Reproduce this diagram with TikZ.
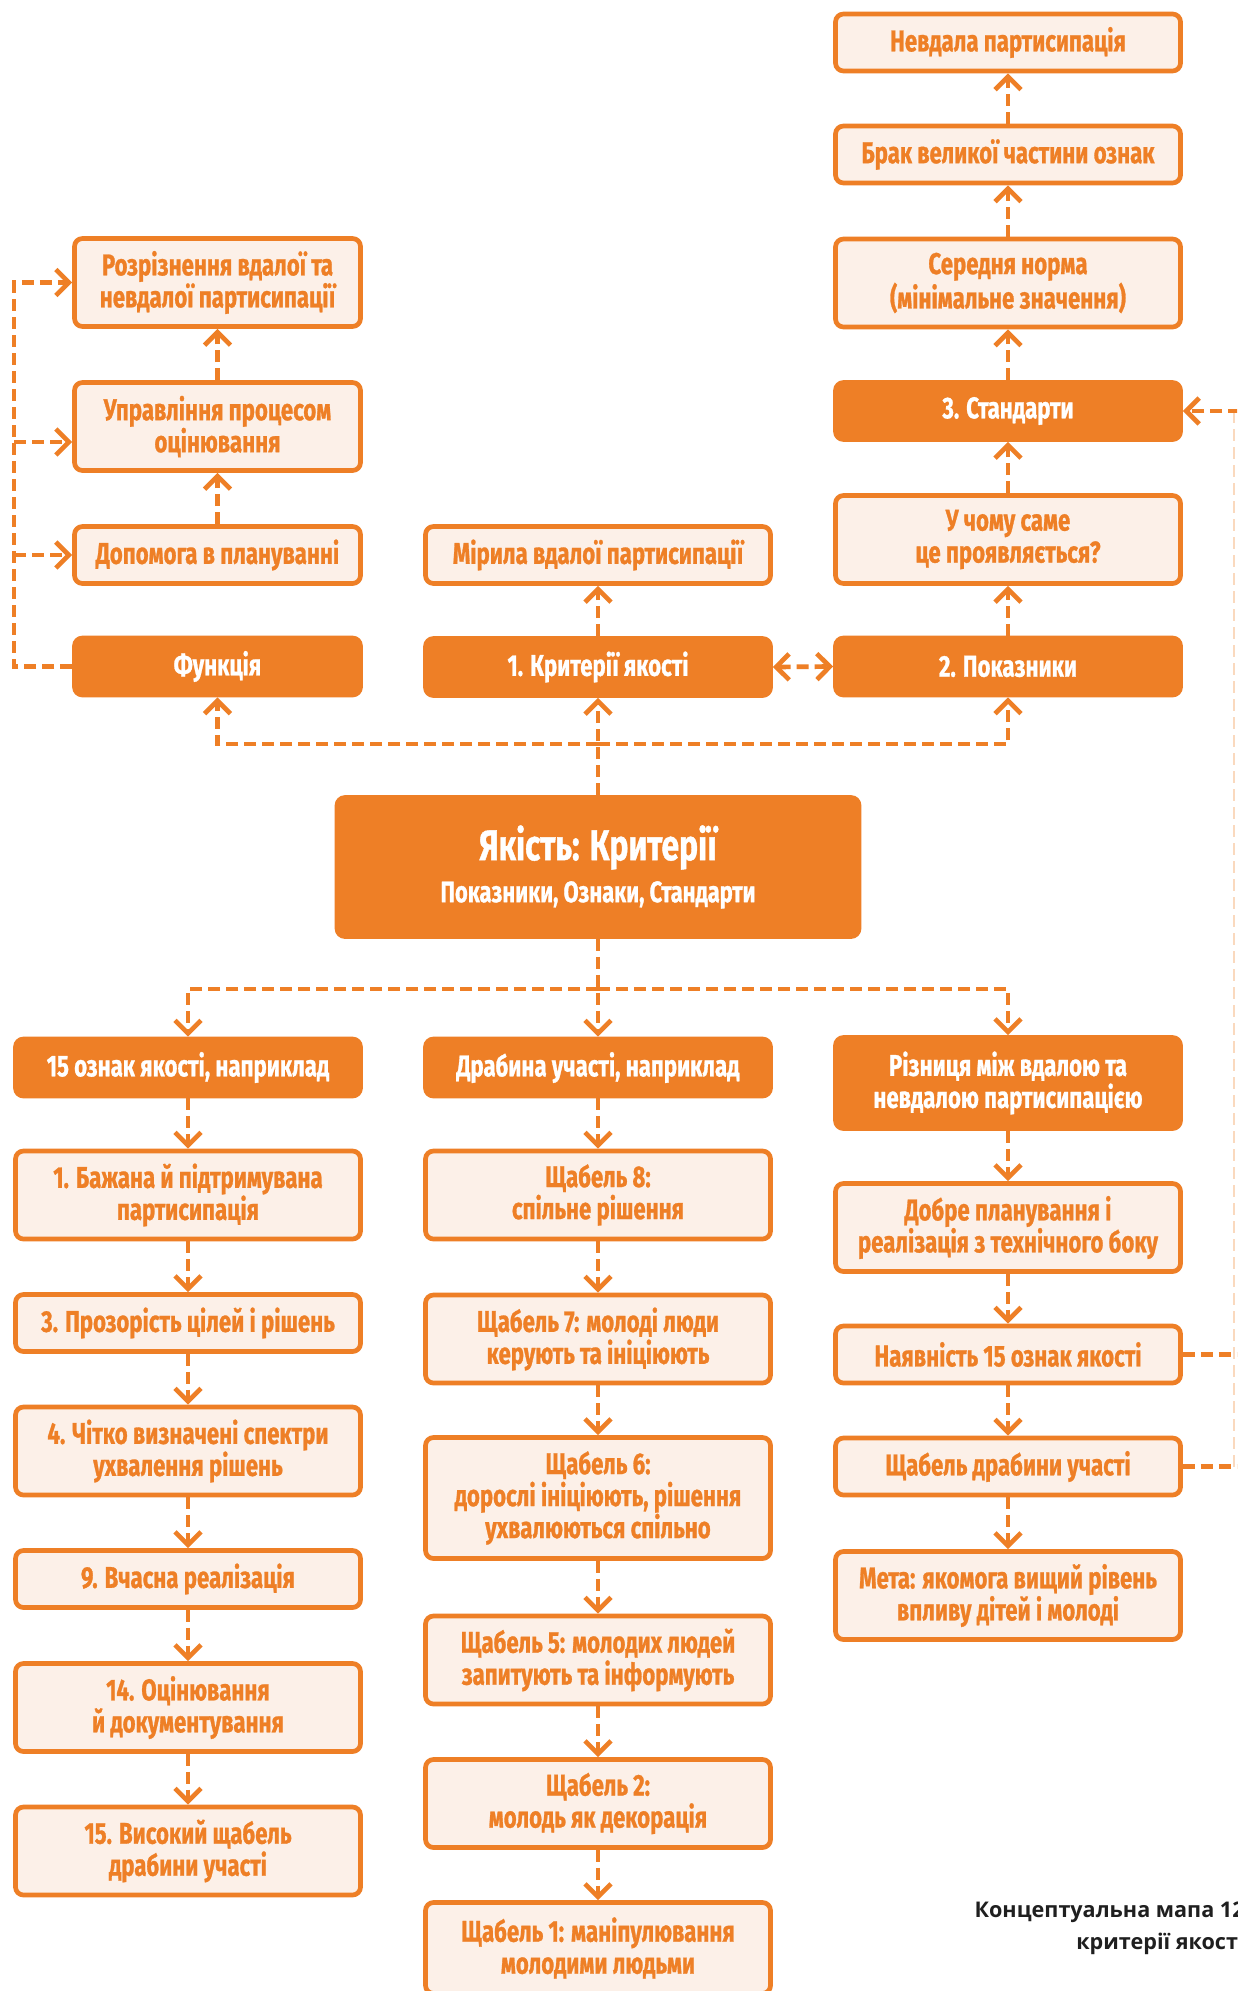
\documentclass[tikz,border=0pt]{standalone}
\usepackage{fontspec}
\usetikzlibrary{arrows.meta}
\newfontfamily\boxfont{Fira Sans}[FakeStretch=0.74, BoldFeatures={FakeBold=0.9}]
\newfontfamily\capfont{Open Sans}
\definecolor{orng}{HTML}{EE7F26}
\definecolor{pale}{HTML}{FCF0E8}
\tikzset{
  base/.style={line width=2.35pt, rounded corners=4pt, inner sep=0pt, align=center,
    font=\boxfont\bfseries\fontsize{15}{16}\selectfont},
  lbox/.style={base, draw=orng, fill=pale, text=orng},
  dbox/.style={base, draw=orng, fill=orng, text=white},
  wl/.style={minimum width=143pt},
  wm/.style={minimum width=172.5pt},
  h1/.style={minimum height=28.5pt},
  h2/.style={minimum height=44pt},
  h3/.style={minimum height=60.5pt},
  conn/.style={draw=orng, line width=2.35pt, dash pattern=on 6pt off 3pt},
  arr/.style={-{Straight Barb[length=6.5pt,width=13pt,sharp]}},
  biarr/.style={{Straight Barb[length=6.5pt,width=13pt,sharp]}-{Straight Barb[length=6.5pt,width=13pt,sharp]}},
}
\begin{document}
\begin{tikzpicture}[x=0.5pt,y=-0.5pt]
\useasboundingbox (0,0) rectangle (1237,1991);
\clip (0,0) rectangle (1237,1991);
\fill[white] (0,0) rectangle (1237,1991);

% --- upper left: function branch
\node[lbox,wl,h2] (r) at (217.5,282.5) {Розрізнення вдалої та\\невдалої партисипації};
\node[lbox,wl,h2] (u) at (217.5,426.5) {Управління процесом\\оцінювання};
\node[lbox,wl,h1] (d) at (217.5,555) {Допомога в плануванні};
\node[dbox,wl,h1] (f) at (217.5,666.5) {Функція};

% --- upper middle
\node[lbox,wm,h1] (m) at (598,555) {Мірила вдалої партисипації};
\node[dbox,wm,h1] (k1) at (598,667) {1. Критерії якості};

% --- upper right
\node[lbox,wm,h1] (nv) at (1008,42.5) {Невдала партисипація};
\node[lbox,wm,h1] (br) at (1008,154.5) {Брак великої частини ознак};
\node[lbox,wm,h2] (sn) at (1008,283) {Середня норма\\(мінімальне значення)};
\node[dbox,wm,h1] (st) at (1008,411) {3. Стандарти};
\node[lbox,wm,h2] (uc) at (1008,539.5) {У чому саме\\це проявляється?};
\node[dbox,wm,h1] (pk) at (1008,666.5) {2. Показники};

% --- central box
\node[dbox,minimum width=261pt,minimum height=69.5pt,
      font=\boxfont\bfseries\fontsize{21.5}{22}\selectfont] (c) at (598,867)
  {Якість: Критерії\\[-1pt]{\fontsize{14.8}{16}\selectfont Показники, Ознаки, Стандарти}};

% --- lower left column
\node[dbox,wm,h1] (q15) at (188,1067.5) {15 ознак якості, наприклад};
\node[lbox,wm,h2] (a1) at (188,1195) {1. Бажана й підтримувана\\партисипація};
\node[lbox,wm,h1] (a3) at (188,1323) {3. Прозорість цілей і рішень};
\node[lbox,wm,h2] (a4) at (188,1451) {4. Чітко визначені спектри\\ухвалення рішень};
\node[lbox,wm,h1] (a9) at (188,1579) {9. Вчасна реалізація};
\node[lbox,wm,h2] (a14) at (188,1707.5) {14. Оцінювання\\й документування};
\node[lbox,wm,h2] (a15) at (188,1851) {15. Високий щабель\\драбини участі};

% --- lower middle column
\node[dbox,wm,h1] (dr) at (598,1067.5) {Драбина участі, наприклад};
\node[lbox,wm,h2] (s8) at (598,1195) {Щабель 8:\\спільне рішення};
\node[lbox,wm,h2] (s7) at (598,1339) {Щабель 7: молоді люди\\керують та ініціюють};
\node[lbox,wm,h3] (s6) at (598,1498) {Щабель 6:\\дорослі ініціюють, рішення\\ухвалюються спільно};
\node[lbox,wm,h2] (s5) at (598,1660) {Щабель 5: молодих людей\\запитують та інформують};
\node[lbox,wm,h2] (s2) at (598,1803.5) {Щабель 2:\\молодь як декорація};
\node[lbox,wm,minimum height=45.5pt] (s1) at (598,1948) {Щабель 1: маніпулювання\\молодими людьми};

% --- lower right column
\node[dbox,wm,minimum height=45.5pt] (rz) at (1008,1083) {Різниця між вдалою та\\невдалою партисипацією};
\node[lbox,wm,h2] (dp) at (1008,1227.5) {Добре планування і\\реалізація з технічного боку};
\node[lbox,wm,h1] (nav) at (1008,1354.5) {Наявність 15 ознак якості};
\node[lbox,wm,h1] (shd) at (1008,1466.5) {Щабель драбини участі};
\node[lbox,wm,h2] (mt) at (1008,1595.5) {Мета: якомога вищий рівень\\впливу дітей і молоді};

% --- caption
\node[anchor=base east, inner sep=0pt, text=black!88,
      font=\capfont\bfseries\fontsize{10.8}{12}\selectfont] (cap1) at (1245,1917) {Концептуальна мапа 12};
\node[anchor=base east, inner sep=0pt, text=black!88,
      font=\capfont\bfseries\fontsize{10.8}{12}\selectfont] (cap2) at (1245,1949) {критерії якості};

% --- rail coordinates
\coordinate (lb) at (14,666.5);
\coordinate (lt) at (14,282.5);
\coordinate (lu) at (14,442);
\coordinate (ld) at (14,555);
\coordinate (uj) at (598,744);
\coordinate (lj) at (598,989);
\coordinate (rr1) at (1240,1354.5);
\coordinate (rr2) at (1240,1466.5);
\coordinate (rv1) at (1234,1466.5);
\coordinate (rv2) at (1234,411);
\coordinate (rr3) at (1240,411);

% --- upper connectors
\draw[conn,arr] (f.west) -- (lb) -- (lt) -- (r.west);
\draw[conn,arr] (lu) -- (lu -| u.west);
\draw[conn,arr] (ld) -- (d.west);
\draw[conn,arr] (d.north) -- (u.south);
\draw[conn,arr] (u.north) -- (r.south);
\draw[conn,arr] (k1.north) -- (m.south);
\draw[conn,biarr] (k1.east) -- (pk.west);
\draw[conn,arr] (pk.north) -- (uc.south);
\draw[conn,arr] (uc.north) -- (st.south);
\draw[conn,arr] (st.north) -- (sn.south);
\draw[conn,arr] (sn.north) -- (br.south);
\draw[conn,arr] (br.north) -- (nv.south);
\draw[conn,arr] (c.north) -- (k1.south);
\draw[conn,arr] (uj) -| (f.south);
\draw[conn,arr] (uj) -| (pk.south);

% --- lower connectors
\draw[conn,arr] (c.south) -- (dr.north);
\draw[conn,arr] (lj) -| (q15.north);
\draw[conn,arr] (lj) -| (rz.north);
\draw[conn,arr] (q15.south) -- (a1.north);
\draw[conn,arr] (a1.south) -- (a3.north);
\draw[conn,arr] (a3.south) -- (a4.north);
\draw[conn,arr] (a4.south) -- (a9.north);
\draw[conn,arr] (a9.south) -- (a14.north);
\draw[conn,arr] (a14.south) -- (a15.north);
\draw[conn,arr] (dr.south) -- (s8.north);
\draw[conn,arr] (s8.south) -- (s7.north);
\draw[conn,arr] (s7.south) -- (s6.north);
\draw[conn,arr] (s6.south) -- (s5.north);
\draw[conn,arr] (s5.south) -- (s2.north);
\draw[conn,arr] (s2.south) -- (s1.north);
\draw[conn,arr] (rz.south) -- (dp.north);
\draw[conn,arr] (dp.south) -- (nav.north);
\draw[conn,arr] (nav.south) -- (shd.north);
\draw[conn,arr] (shd.south) -- (mt.north);

% --- right return rail to the standards box
\draw[conn] (nav.east) -- (rr1);
\draw[conn] (shd.east) -- (rr2);
\draw[draw=orng!30, line width=0.8pt, dash pattern=on 6pt off 3pt] (rv1) -- (rv2);
\draw[conn,arr] (rr3) -- (st.east);
\end{tikzpicture}
\end{document}
